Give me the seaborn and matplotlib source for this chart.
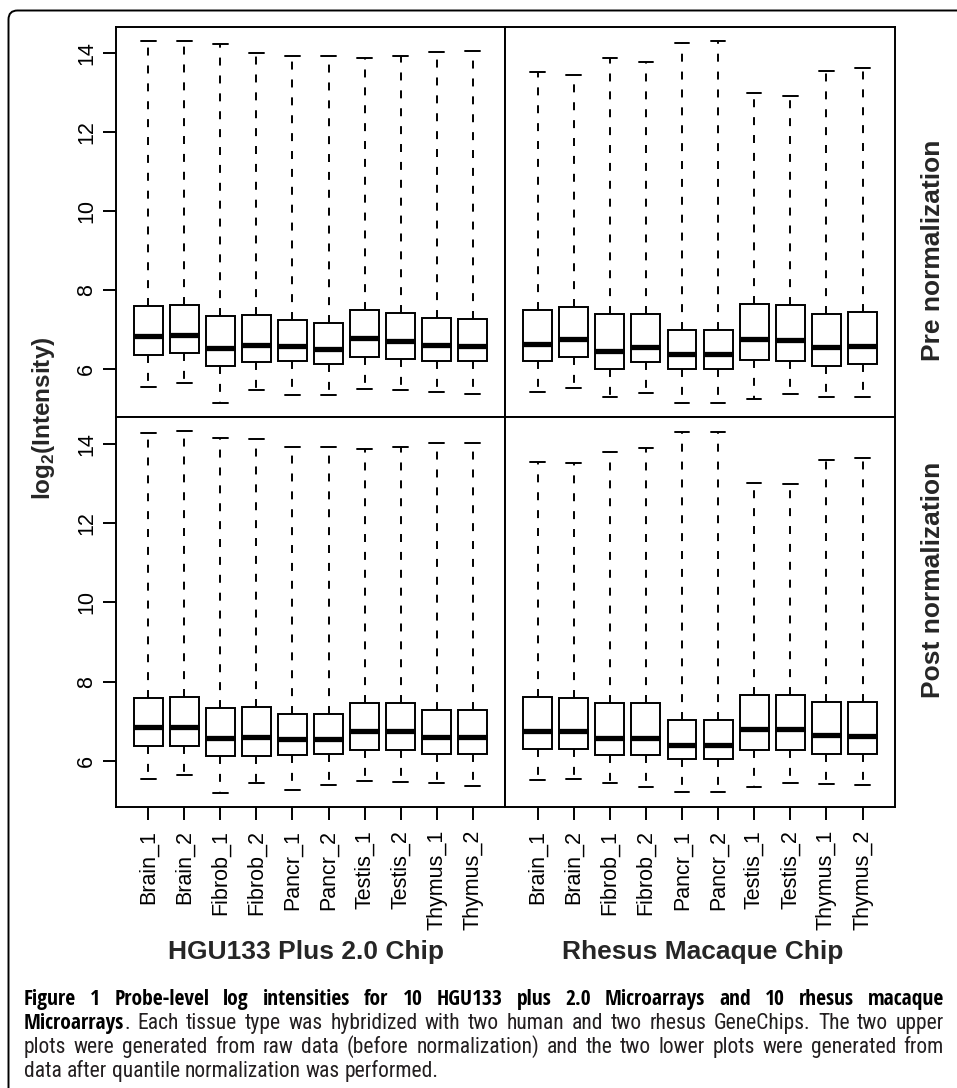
import matplotlib
matplotlib.use("Agg")
import matplotlib.pyplot as plt
from matplotlib import font_manager, patches, transforms
from matplotlib.font_manager import FontProperties
import seaborn as sns
import pandas as pd

samples = ["Brain_1", "Brain_2", "Fibrob_1", "Fibrob_2", "Pancr_1",
           "Pancr_2", "Testis_1", "Testis_2", "Thymus_1", "Thymus_2"]

# five-number summaries (whisker ends, quartiles, median)
hgu_pre_low = [5.55, 5.66, 5.16, 5.49, 5.34, 5.34, 5.51, 5.49, 5.43, 5.38]
hgu_pre_q1 = [6.35, 6.41, 6.09, 6.18, 6.20, 6.13, 6.31, 6.27, 6.20, 6.20]
hgu_pre_med = [6.84, 6.88, 6.54, 6.62, 6.59, 6.51, 6.80, 6.72, 6.62, 6.59]
hgu_pre_q3 = [7.60, 7.62, 7.34, 7.37, 7.24, 7.17, 7.51, 7.43, 7.30, 7.26]
hgu_pre_high = [14.29, 14.29, 14.22, 13.99, 13.91, 13.91, 13.86, 13.92, 14.03, 14.06]

rhe_pre_low = [5.43, 5.54, 5.30, 5.40, 5.16, 5.16, 5.26, 5.38, 5.31, 5.31]
rhe_pre_q1 = [6.21, 6.31, 6.00, 6.19, 6.00, 6.00, 6.23, 6.20, 6.09, 6.14]
rhe_pre_med = [6.65, 6.77, 6.46, 6.57, 6.38, 6.38, 6.76, 6.73, 6.57, 6.60]
rhe_pre_q3 = [7.49, 7.58, 7.41, 7.39, 7.00, 6.99, 7.65, 7.62, 7.39, 7.45]
rhe_pre_high = [13.53, 13.44, 13.88, 13.76, 14.26, 14.29, 12.98, 12.92, 13.54, 13.61]

hgu_post_low = [5.56, 5.65, 5.21, 5.45, 5.28, 5.39, 5.51, 5.48, 5.44, 5.37]
hgu_post_q1 = [6.39, 6.39, 6.13, 6.13, 6.15, 6.17, 6.29, 6.29, 6.19, 6.19]
hgu_post_med = [6.85, 6.85, 6.58, 6.60, 6.57, 6.56, 6.77, 6.77, 6.61, 6.61]
hgu_post_q3 = [7.60, 7.61, 7.34, 7.36, 7.20, 7.20, 7.47, 7.47, 7.29, 7.29]
hgu_post_high = [14.27, 14.31, 14.14, 14.12, 13.91, 13.93, 13.87, 13.93, 14.03, 14.03]

rhe_post_low = [5.52, 5.54, 5.46, 5.35, 5.23, 5.22, 5.34, 5.44, 5.42, 5.41]
rhe_post_q1 = [6.32, 6.32, 6.15, 6.15, 6.05, 6.05, 6.28, 6.28, 6.18, 6.18]
rhe_post_med = [6.76, 6.77, 6.58, 6.58, 6.42, 6.42, 6.81, 6.81, 6.65, 6.63]
rhe_post_q3 = [7.61, 7.59, 7.46, 7.46, 7.05, 7.05, 7.68, 7.68, 7.48, 7.48]
rhe_post_high = [13.53, 13.51, 13.79, 13.89, 14.30, 14.30, 13.01, 12.99, 13.58, 13.64]

y_ticks = [6, 8, 10, 12, 14]
chip_labels = ["HGU133 Plus 2.0 Chip", "Rhesus Macaque Chip"]
row_labels = ["Pre normalization", "Post normalization"]

caption = [
    [("Figure 1 Probe-level log intensities for 10 HGU133 plus 2.0 Microarrays and 10 rhesus macaque", "bold")],
    [("Microarrays", "bold"), (". Each tissue type was hybridized with two human and two rhesus GeneChips. The two upper", "normal")],
    [("plots were generated from raw data (before normalization) and the two lower plots were generated from", "normal")],
    [("data after quantile normalization was performed.", "normal")],
]

sns.set_style("ticks")
plt.rcParams["font.family"] = ["Liberation Sans", "DejaVu Sans"]
plt.rcParams["mathtext.fontset"] = "custom"
plt.rcParams["mathtext.rm"] = "Liberation Sans"
plt.rcParams["mathtext.bf"] = "Liberation Sans:bold"

W, H = 957, 1088
fig = plt.figure(figsize=(W / 100, H / 100), dpi=100)


def add_panel(x0, y0, x1, y1):
    return fig.add_axes([x0 / W, 1 - y1 / H, (x1 - x0) / W, (y1 - y0) / H])


def summary_frame(low, q1, med, q3, high):
    rows = []
    for i, s in enumerate(samples):
        for v in (low[i], q1[i], med[i], q3[i], high[i]):
            rows.append({"sample": s, "value": v})
    return pd.DataFrame(rows)


panels = [
    [(hgu_pre_low, hgu_pre_q1, hgu_pre_med, hgu_pre_q3, hgu_pre_high),
     (rhe_pre_low, rhe_pre_q1, rhe_pre_med, rhe_pre_q3, rhe_pre_high)],
    [(hgu_post_low, hgu_post_q1, hgu_post_med, hgu_post_q3, hgu_post_high),
     (rhe_post_low, rhe_post_q1, rhe_post_med, rhe_post_q3, rhe_post_high)],
]

xs = [116, 505, 895]
ys = [27, 417, 807]

for r in range(2):
    lo = min(min(panels[r][0][0]), min(panels[r][1][0]))
    hi = max(max(panels[r][0][4]), max(panels[r][1][4]))
    pad = (hi - lo) * 0.04
    for c in range(2):
        ax = add_panel(xs[c], ys[r], xs[c + 1], ys[r + 1])
        df = summary_frame(*panels[r][c])
        sns.boxplot(data=df, x="sample", y="value", ax=ax, whis=(0, 100),
                    width=0.8, color="white", saturation=1, linecolor="black",
                    linewidth=1.4,
                    medianprops={"linewidth": 3.8, "solid_capstyle": "butt"},
                    whiskerprops={"linestyle": (0, (4.1, 5.1))})
        ax.set_xlim(-0.9, 9.9)
        ax.set_ylim(lo - pad, hi + pad)
        ax.set_xlabel("")
        ax.set_ylabel("")
        for sp in ax.spines.values():
            sp.set_linewidth(1.4)
            sp.set_color("black")
            sp.set_visible(True)
        ax.tick_params(length=9.5, width=1.4, color="black", labelsize=15.5,
                       labelcolor="black")
        ax.tick_params(axis="x", labelrotation=90, pad=7)
        ax.tick_params(axis="y", labelrotation=90, pad=4)
        ax.set_yticks(y_ticks)
        if r == 0:
            ax.tick_params(axis="x", bottom=False, labelbottom=False)
        if c == 1:
            ax.tick_params(axis="y", left=False, labelleft=False)
        for lab in ax.get_yticklabels():
            lab.set_va("center")

fig.text(44 / W, 1 - 418 / H, r"$\mathbf{log}_{\mathbf{2}}\mathbf{(Intensity)}$",
         rotation=90, ha="center", va="center", fontsize=17.5)
for lab, cx in zip(chip_labels, [306, 703]):
    fig.text(cx / W, 1 - 940 / H, lab, ha="center", va="top",
             fontsize=19, fontweight="bold")
for lab, cy in zip(row_labels, [250, 580]):
    fig.text(933 / W, 1 - cy / H, lab, rotation=90, ha="center", va="center",
             fontsize=19, fontweight="bold")

# rounded frame around the whole figure
frame = patches.FancyBboxPatch((8.5, -30), 1000, H - 10.5 + 30,
                               boxstyle="round,pad=0,rounding_size=9",
                               transform=transforms.IdentityTransform(),
                               fill=False, edgecolor="black", linewidth=1.4)
fig.add_artist(frame)


# caption font: prefer a condensed face if one is installed
def is_condensed(entry):
    st = entry.stretch
    if isinstance(st, str):
        return "condensed" in st or "narrow" in st
    return st < 500


def weight_of(entry):
    w = entry.weight
    if isinstance(w, str):
        return 700 if "bold" in w else 400
    return w


def pick_face(bold):
    want = 700 if bold else 400
    for fam in ["Open Sans", "Noto Sans", "Roboto", "Liberation Sans Narrow", "Lato"]:
        for e in font_manager.fontManager.ttflist:
            if e.name.startswith(fam) and e.style == "normal" and is_condensed(e) \
                    and weight_of(e) == want:
                return FontProperties(fname=e.fname)
    return FontProperties(family="Open Sans", weight="bold" if bold else "normal")


faces = {"normal": pick_face(False), "bold": pick_face(True)}
renderer = fig.canvas.get_renderer()


def split_words(segs):
    words = [[]]
    for txt, wt in segs:
        pieces = txt.split(" ")
        for i, p in enumerate(pieces):
            if i > 0:
                words.append([])
            if p:
                words[-1].append((p, wt))
    return [w for w in words if w]


def measure(s, wt, size):
    fp = faces[wt].copy()
    fp.set_size(size)
    t = fig.text(0, 0, s, fontproperties=fp)
    w = t.get_window_extent(renderer).width
    t.remove()
    return w


left, right = 24, 944
probe = measure(caption[2][0][0], "normal", 10)
cap_size = min(10 * (right - left - 12) / probe, 15.5)
baselines = [1005, 1029, 1053, 1077]

for li, segs in enumerate(caption):
    words = split_words(segs)
    widths = [[measure(p, wt, cap_size) for p, wt in w] for w in words]
    total = sum(sum(w) for w in widths)
    if li < 3:
        gap = (right - left - total) / (len(words) - 1)
    else:
        gap = measure("a b", "normal", cap_size) - measure("ab", "normal", cap_size)
    x = left
    for w, ws in zip(words, widths):
        for (p, wt), pw in zip(w, ws):
            fp = faces[wt].copy()
            fp.set_size(cap_size)
            col = "black" if wt == "bold" else "#231f20"
            fig.text(x / W, 1 - baselines[li] / H, p, fontproperties=fp,
                     va="baseline", ha="left", color=col)
            x += pw
        x += gap

fig.savefig("out.png", dpi=100)
